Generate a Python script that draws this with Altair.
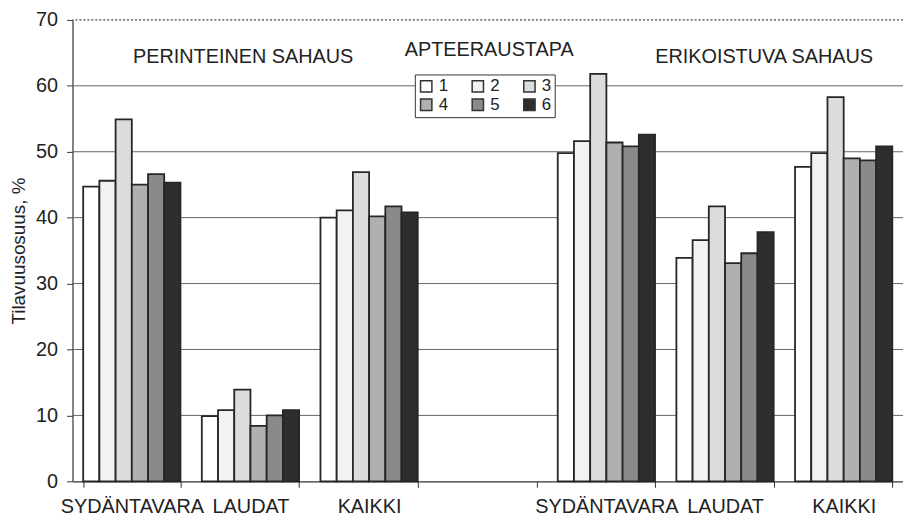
import altair as alt
import pandas as pd

# ---- data ----
slots = ["SYDÄNTAVARA|P", "LAUDAT|P", "KAIKKI|P", " |gap", "SYDÄNTAVARA|E", "LAUDAT|E", "KAIKKI|E"]
groups = ["SYDÄNTAVARA|P", "LAUDAT|P", "KAIKKI|P", "SYDÄNTAVARA|E", "LAUDAT|E", "KAIKKI|E"]
series = ["1", "2", "3", "4", "5", "6"]
s1 = [44.7, 9.9, 40.0, 49.8, 33.9, 47.7]
s2 = [45.6, 10.8, 41.1, 51.6, 36.6, 49.8]
s3 = [54.9, 13.9, 46.9, 61.8, 41.7, 58.3]
s4 = [45.0, 8.4, 40.2, 51.4, 33.1, 49.0]
s5 = [46.6, 10.0, 41.7, 50.8, 34.6, 48.7]
s6 = [45.3, 10.8, 40.8, 52.6, 37.8, 50.8]
grid_values = [10, 20, 30, 40, 50, 60]
top_value = [70]
y_ticks = [0, 10, 20, 30, 40, 50, 60, 70]

colors = ["#ffffff", "#f2f2f2", "#dcdcdc", "#b0b0b0", "#8a8a8a", "#2e2e2e"]
FONT = "Liberation Sans"

rows = []
for name, vals in zip(series, [s1, s2, s3, s4, s5, s6]):
    for g, v in zip(groups, vals):
        rows.append({"slot": g, "series": name, "value": v})
df = pd.DataFrame(rows)

yscale = alt.Scale(domain=[0, 70], nice=False, zero=True)

grid = alt.Chart(pd.DataFrame({"v": grid_values})).mark_rule(
    color="#666", strokeWidth=1
).encode(y=alt.Y("v:Q", scale=yscale))

top = alt.Chart(pd.DataFrame({"v": top_value})).mark_rule(
    color="#444", strokeWidth=1.2, strokeDash=[2, 2]
).encode(y=alt.Y("v:Q", scale=yscale))

bars = alt.Chart(df).mark_bar(stroke="#262626", strokeWidth=1.8).encode(
    x=alt.X(
        "slot:N",
        sort=slots,
        scale=alt.Scale(domain=slots, paddingInner=0.18, paddingOuter=0.09),
        axis=alt.Axis(
            title=None,
            labelExpr="split(datum.label, '|')[0]",
            tickBand="extent",
            labelAngle=0,
            labelFontSize=20,
            labelFont=FONT,
            labelColor="#222",
            labelPadding=9,
            tickSize=6,
            tickColor="#333",
            domainColor="#333",
            domainWidth=1.2,
        ),
    ),
    xOffset=alt.XOffset("series:N", sort=series, scale=alt.Scale(paddingInner=0, paddingOuter=0)),
    y=alt.Y(
        "value:Q",
        scale=yscale,
        axis=alt.Axis(
            values=y_ticks,
            grid=False,
            title="Tilavuusosuus, %",
            titleFont=FONT,
            titleFontSize=19,
            titleFontWeight="normal",
            titleColor="#222",
            titlePadding=7,
            labelFont=FONT,
            labelFontSize=20,
            labelColor="#222",
            labelPadding=9,
            tickSize=6,
            tickColor="#333",
            domainColor="#333",
            domainWidth=1.2,
        ),
    ),
    color=alt.Color(
        "series:N",
        sort=series,
        scale=alt.Scale(domain=series, range=colors),
        legend=alt.Legend(
            title=None,
            orient="none",
            legendX=345,
            legendY=55,
            direction="horizontal",
            columns=3,
            fillColor="white",
            strokeColor="#333",
            padding=3,
            symbolType="square",
            symbolSize=130,
            symbolStrokeColor="#333",
            symbolStrokeWidth=1.5,
            labelFont=FONT,
            labelFontSize=17,
            labelColor="#222",
            labelOffset=4,
            columnPadding=20,
            rowPadding=0,
        ),
    ),
)

def label(text, x, y):
    return alt.Chart(pd.DataFrame({"t": [text]})).mark_text(
        font=FONT, fontSize=20, color="#222", align="center", baseline="middle"
    ).encode(x=alt.value(x), y=alt.value(y), text="t:N")

chart = alt.layer(
    grid, top, bars,
    label("PERINTEINEN SAHAUS", 172, 37),
    label("APTEERAUSTAPA", 420, 30),
    label("ERIKOISTUVA SAHAUS", 697, 37),
).properties(
    width=837,
    height=465,
    autosize=alt.AutoSizeParams(type="none"),
    padding={"left": 65, "top": 10, "right": 0, "bottom": 38},
).configure_view(stroke=None).configure_axis(labelFont=FONT)

chart.save("out.html", embed_options={"renderer": "svg", "actions": False})
